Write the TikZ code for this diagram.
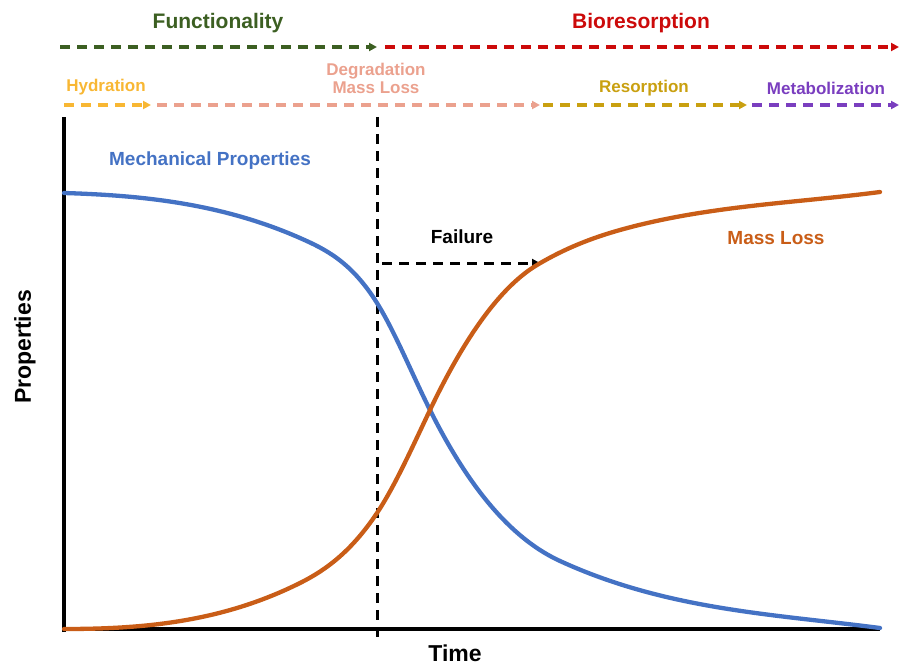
\documentclass[tikz,border=0pt]{standalone}
\usepackage{fontspec}
\setmainfont{Liberation Sans}
\usetikzlibrary{arrows.meta}
\definecolor{cgreen}{HTML}{3C5F22}
\definecolor{cred}{HTML}{CC0A0A}
\definecolor{cyellow}{HTML}{F8B733}
\definecolor{csalmon}{HTML}{EBA18E}
\definecolor{cgold}{HTML}{C9A010}
\definecolor{cpurple}{HTML}{7A3EBF}
\definecolor{cblue}{HTML}{4472C4}
\definecolor{corange}{HTML}{C95D17}
\tikzset{
  phase/.style={line width=3.2pt, dash pattern=on 10pt off 7pt, -{Triangle[length=8pt,width=8pt]}},
  blkdash/.style={line width=3pt, dash pattern=on 10pt off 7pt},
  lbl/.style={font=\bfseries\fontsize{#1}{#1}\selectfont, inner sep=0pt},
  curve/.style={line width=4.3pt, line cap=round},
  axis/.style={line width=3.5pt},
}
\begin{document}
\begin{tikzpicture}[x=1pt,y=-1pt]
\useasboundingbox (0,0) rectangle (899,666);
% labels
\node[lbl=21, text=cgreen] (func) at (218,23) {Functionality};
\node[lbl=21, text=cred] (bior) at (641,23) {Bioresorption};
\node[lbl=17, text=cyellow] (hyd) at (106,87) {Hydration};
\node[lbl=17, text=csalmon, align=center] (deg) at (376,78) {Degradation\\[1pt]Mass Loss};
\node[lbl=17, text=cgold] (res) at (644,88) {Resorption};
\node[lbl=17, text=cpurple] (met) at (826,88) {Metabolization};
\node[lbl=19, text=cblue] (mech) at (210,161) {Mechanical Properties};
\node[lbl=19, text=corange] (mass) at (776,238) {Mass Loss};
\node[lbl=19] (fail) at (462,237) {Failure};
\node[lbl=23, rotate=90] (prop) at (25,347) {Properties};
\node[lbl=23] (time) at (455,653) {Time};
% top arrows
\coordinate (g0) at (60,47); \coordinate (g1) at (377,47);
\coordinate (r0) at (385,47); \coordinate (r1) at (899,47);
\coordinate (h0) at (64,105); \coordinate (h1) at (151,105);
\coordinate (s0) at (157,105); \coordinate (s1) at (540,105);
\coordinate (o0) at (543,105); \coordinate (o1) at (747,105);
\coordinate (p0) at (752,105); \coordinate (p1) at (899,105);
\draw[phase, cgreen] (g0) -- (g1);
\draw[phase, cred] (r0) -- (r1);
\draw[phase, cyellow] (h0) -- (h1);
\draw[phase, csalmon] (s0) -- (s1);
\draw[phase, cgold] (o0) -- (o1);
\draw[phase, cpurple] (p0) -- (p1);
% axes
\coordinate (orig) at (64,629);
\coordinate (ytop) at (64,117);
\coordinate (xend) at (880,629);
\draw[axis] (64,632) -- (ytop);
\draw[axis] (62,629) -- (xend);
% failure line
\coordinate (v0) at (377,117); \coordinate (v1) at (377,640);
\draw[blkdash] (v0) -- (v1);
\coordinate (f0) at (382,263); \coordinate (f1) at (540,263);
\draw[blkdash, -{Triangle[length=8pt,width=8pt]}] (f0) -- (f1);
% curves
\draw[curve, cblue] (64,193)
  .. controls (142.7,195.4) and (221.3,203.4) .. (300,238)
  .. controls (325.7,249.3) and (351.3,261.9) .. (377,303)
  .. controls (394.7,331.3) and (412.3,374.7) .. (430,410)
  .. controls (473.3,496.7) and (516.7,541.1) .. (560,561)
  .. controls (666.7,610) and (773.3,614.1) .. (880,628);
\draw[curve, corange] (64,629)
  .. controls (142.7,629) and (221.3,622.3) .. (300,583)
  .. controls (325.7,570.2) and (351.3,551.5) .. (377,513)
  .. controls (394.7,486.5) and (412.3,447.1) .. (430,410)
  .. controls (465.7,335.1) and (501.3,286.4) .. (537,265)
  .. controls (564.7,248.4) and (592.3,237.75) .. (620,230)
  .. controls (706.7,205.7) and (793.3,203.3) .. (880,192);
\end{tikzpicture}
\end{document}
